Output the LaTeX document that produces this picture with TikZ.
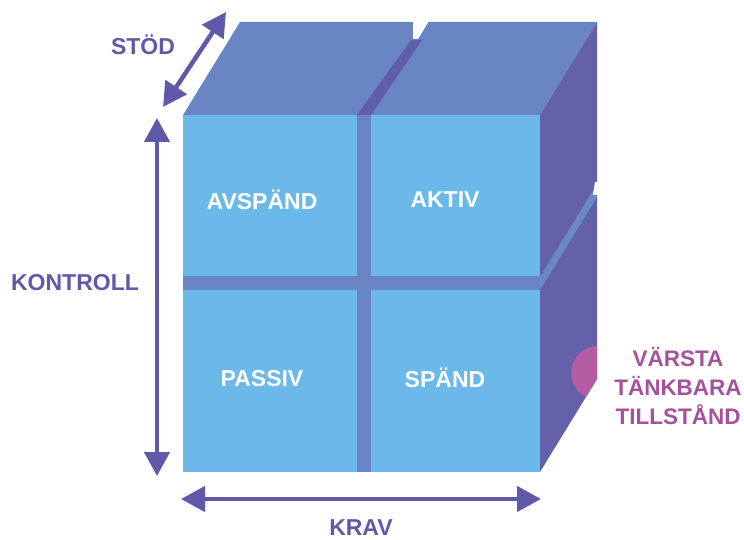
\documentclass[tikz,border=0pt]{standalone}
\usepackage{fontspec}
\setmainfont{Liberation Sans}
\usetikzlibrary{arrows.meta}

\definecolor{frontblue}{HTML}{6BB9E8}
\definecolor{frontbar}{HTML}{6A84C4}
\definecolor{topblue}{HTML}{6A85C3}
\definecolor{topbar}{HTML}{5F5EAA}
\definecolor{sidepurple}{HTML}{6460A9}
\definecolor{sidebar}{HTML}{6A88C6}
\definecolor{axispurple}{HTML}{5E59A8}
\definecolor{worstpink}{HTML}{A6519B}
\definecolor{worstdot}{HTML}{B25CA3}

\tikzset{
  axis/.style={draw=axispurple,line width=4.5pt,
    {Triangle[length=24pt,width=25pt]}-{Triangle[length=24pt,width=25pt]}},
  axislabel/.style={text=axispurple,font=\bfseries\fontsize{23}{27}\selectfont},
  cell/.style={text=white,font=\bfseries\fontsize{23}{27}\selectfont},
}

\begin{document}
\begin{tikzpicture}[x=1pt,y=-1pt]
        \useasboundingbox (0,0) rectangle (744,540);

        % top of the cube
        \fill[topblue] (183,115) -- (240,22) -- (597,22) -- (540,115) -- cycle;
        \fill[topbar] (357,115) -- (371,115) -- (422,40) -- (411,40) -- cycle;
        \fill[white] (413,21) -- (429,21) -- (418,39) -- (413,39) -- cycle;

        % right side
        \fill[sidepurple] (540,115) -- (597,22) -- (597,379) -- (540,472) -- cycle;
        \fill[sidebar] (540,277) -- (540,290) -- (597,197) -- (597,184) -- cycle;
        \fill[white] (595,182) -- (601,182) -- (601,195) -- (593,195) -- cycle;
        \begin{scope}
          \clip (540,115) -- (597,22) -- (597,379) -- (540,472) -- cycle;
          \fill[worstdot] (598,373) circle (27);
        \end{scope}

        % front with the four fields
        \fill[frontblue] (183,115) rectangle (540,472);
        \fill[frontbar] (357,115) rectangle (371,472);
        \fill[frontbar] (183,276) rectangle (540,290);

        \begin{scope}[every node/.style={cell}]
          \node (avspand) at (262,200) {AVSPÄND};
          \node (aktiv)   at (445,200) {AKTIV};
          \node (passiv)  at (262,379) {PASSIV};
          \node (spand)   at (445,378) {SPÄND};
        \end{scope}

        % axes
        \coordinate (stod-a)     at (226,12);
        \coordinate (stod-b)     at (163,107);
        \coordinate (kontroll-a) at (157,118);
        \coordinate (kontroll-b) at (157,476);
        \coordinate (krav-a)     at (181,499);
        \coordinate (krav-b)     at (541,499);

        \path (stod-a)     edge[axis] (stod-b);
        \path (kontroll-a) edge[axis] (kontroll-b);
        \path (krav-a)     edge[axis] (krav-b);

        \begin{scope}[every node/.style={axislabel}]
          \node (stod)     at (143,45)  {STÖD};
          \node (kontroll) at (75,283)  {KONTROLL};
          \node (krav)     at (361,528) {KRAV};
        \end{scope}

        \node[text=worstpink,align=center,inner sep=0pt,
              font=\bfseries\fontsize{22.5}{29}\selectfont] (worst) at (678,386)
          {VÄRSTA\\TÄNKBARA\\TILLSTÅND};

      \end{tikzpicture}
\end{document}
